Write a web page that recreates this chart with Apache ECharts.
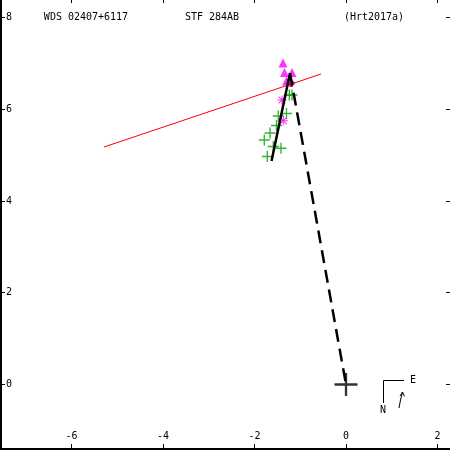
<!DOCTYPE html>
<html>
<head>
<meta charset="utf-8">
<script src="https://cdn.jsdelivr.net/npm/echarts@6/dist/echarts.min.js"></script>
<style>html,body{margin:0;padding:0;background:#fff}#c{width:450px;height:450px}</style>
</head>
<body>
<div id="c"></div>
<script>
// ---- data ----
const xTicks = [-6, -4, -2, 0, 2];
const yTicks = [0, 2, 4, 6, 8];
const titleLeft = 'WDS 02407+6117';
const titleMid = 'STF 284AB';
const titleRight = '(Hrt2017a)';
const nodeLine = [[-5.29, 5.174], [-0.546, 6.765]];
const orbitArc = [[-1.628, 4.869], [-1.224, 6.786]];
const radiusLine = [[-1.224, 6.786], [0, 0]];
const primary = [[0, 0]];
const plusObs = [[-1.239, 6.307], [-1.180, 6.307], [-1.301, 5.904], [-1.480, 5.850], [-1.519, 5.643],
  [-1.661, 5.479], [-1.786, 5.327], [-1.589, 5.185], [-1.421, 5.146], [-1.720, 4.967]];
const triObs = [[-1.377, 7.004], [-1.344, 6.797], [-1.180, 6.797], [-1.301, 6.612], [-1.224, 6.634]];
const starObs = [[-1.399, 6.198], [-1.370, 5.747]];
const redObs = [[-1.202, 6.525]];
const blueObs = [[-1.158, 6.569]];

const FONT = 'DejaVu Sans Mono';
const plusPath = 'path://M5.25,0H6.75V5.25H12V6.75H6.75V12H5.25V6.75H0V5.25H5.25Z';
const bigPlusPath = 'path://M5.4,0H6.6V5.4H12V6.6H6.6V12H5.4V6.6H0V5.4H5.4Z';
const starPath = 'path://M0,4.4H10V5.6H0Z M4.4,0H5.6V10H4.4Z M0.8,1.6L1.6,0.8L9.2,8.4L8.4,9.2Z M8.4,0.8L9.2,1.6L1.6,9.2L0.8,8.4Z';

const chart = echarts.init(document.getElementById('c'), null, {renderer: 'canvas'});
const axisLbl = {fontFamily: FONT, fontSize: 10, color: '#000'};
chart.setOption({
  animation: false,
  backgroundColor: '#fff',
  grid: {left: 1, right: 0, top: 0, bottom: 1, containLabel: false},
  xAxis: [{
    type: 'value', min: -7.541, max: 2.273, position: 'bottom',
    axisLine: {show: true, onZero: false, lineStyle: {color: '#000', width: 2}},
    axisTick: {show: true, inside: true, length: 5, customValues: xTicks, lineStyle: {color: '#000', width: 1}},
    axisLabel: Object.assign({inside: true, margin: 8, customValues: xTicks}, axisLbl),
    splitLine: {show: false}
  }, {
    type: 'value', min: -7.541, max: 2.273, position: 'top',
    axisLine: {show: false, onZero: false},
    axisTick: {show: true, inside: true, length: 3, customValues: xTicks, lineStyle: {color: '#000', width: 1}},
    axisLabel: {show: false},
    splitLine: {show: false}
  }],
  yAxis: [{
    type: 'value', min: -1.405, max: 8.377, position: 'left',
    axisLine: {show: true, onZero: false, lineStyle: {color: '#000', width: 2}},
    axisTick: {show: true, inside: true, length: 4, customValues: yTicks, lineStyle: {color: '#000', width: 1}},
    axisLabel: Object.assign({inside: true, margin: 5, customValues: yTicks}, axisLbl),
    splitLine: {show: false}
  }, {
    type: 'value', min: -1.405, max: 8.377, position: 'right',
    axisLine: {show: false, onZero: false},
    axisTick: {show: true, inside: true, length: 4, customValues: yTicks, lineStyle: {color: '#000', width: 1}},
    axisLabel: {show: false},
    splitLine: {show: false}
  }],
  series: [
    {type: 'scatter', data: plusObs, symbol: plusPath, symbolSize: 11, itemStyle: {color: '#00a000'}, z: 2},
    {type: 'scatter', data: triObs, symbol: 'triangle', symbolSize: 9, itemStyle: {color: '#ff00ff'}, z: 2},
    {type: 'scatter', data: starObs, symbol: starPath, symbolSize: 9, itemStyle: {color: '#ff00ff'}, z: 2},
    {type: 'scatter', data: redObs, symbol: 'rect', symbolSize: 4, itemStyle: {color: '#ff0000'}, z: 3},
    {type: 'scatter', data: blueObs, symbol: 'rect', symbolSize: 3, itemStyle: {color: '#0000ff'}, z: 3},
    {type: 'line', data: nodeLine, showSymbol: false, symbol: 'none', lineStyle: {color: '#ff0000', width: 1}, z: 4},
    {type: 'line', data: orbitArc, showSymbol: false, symbol: 'none', lineStyle: {color: '#000', width: 2.5}, z: 5},
    {type: 'line', data: radiusLine, showSymbol: false, symbol: 'none', lineStyle: {color: '#000', width: 2.5, type: [13, 7]}, z: 5},
    {type: 'scatter', data: primary, symbol: bigPlusPath, symbolSize: 23, itemStyle: {color: '#000'}, z: 6}
  ],
  graphic: [
    {type: 'text', x: 86, y: 17, style: {text: titleLeft, font: '10px "' + FONT + '"', fill: '#000', textAlign: 'center', textVerticalAlign: 'middle'}},
    {type: 'text', x: 212, y: 17, style: {text: titleMid, font: '10px "' + FONT + '"', fill: '#000', textAlign: 'center', textVerticalAlign: 'middle'}},
    {type: 'text', x: 374, y: 17, style: {text: titleRight, font: '10px "' + FONT + '"', fill: '#000', textAlign: 'center', textVerticalAlign: 'middle'}},
    {type: 'polyline', shape: {points: [[404, 380.5], [383.5, 380.5], [383.5, 403]]}, style: {stroke: '#000', lineWidth: 1, fill: null}},
    {type: 'text', x: 413, y: 380, style: {text: 'E', font: '10px "' + FONT + '"', fill: '#000', textAlign: 'center', textVerticalAlign: 'middle'}},
    {type: 'text', x: 383, y: 410, style: {text: 'N', font: '10px "' + FONT + '"', fill: '#000', textAlign: 'center', textVerticalAlign: 'middle'}},
    {type: 'polyline', shape: {points: [[399, 408], [400.5, 400], [402.5, 392]]}, style: {stroke: '#000', lineWidth: 1, fill: null}},
    {type: 'polyline', shape: {points: [[400, 396], [402.5, 392], [404.5, 396.5]]}, style: {stroke: '#000', lineWidth: 1, fill: null}}
  ]
});
</script>
</body>
</html>
